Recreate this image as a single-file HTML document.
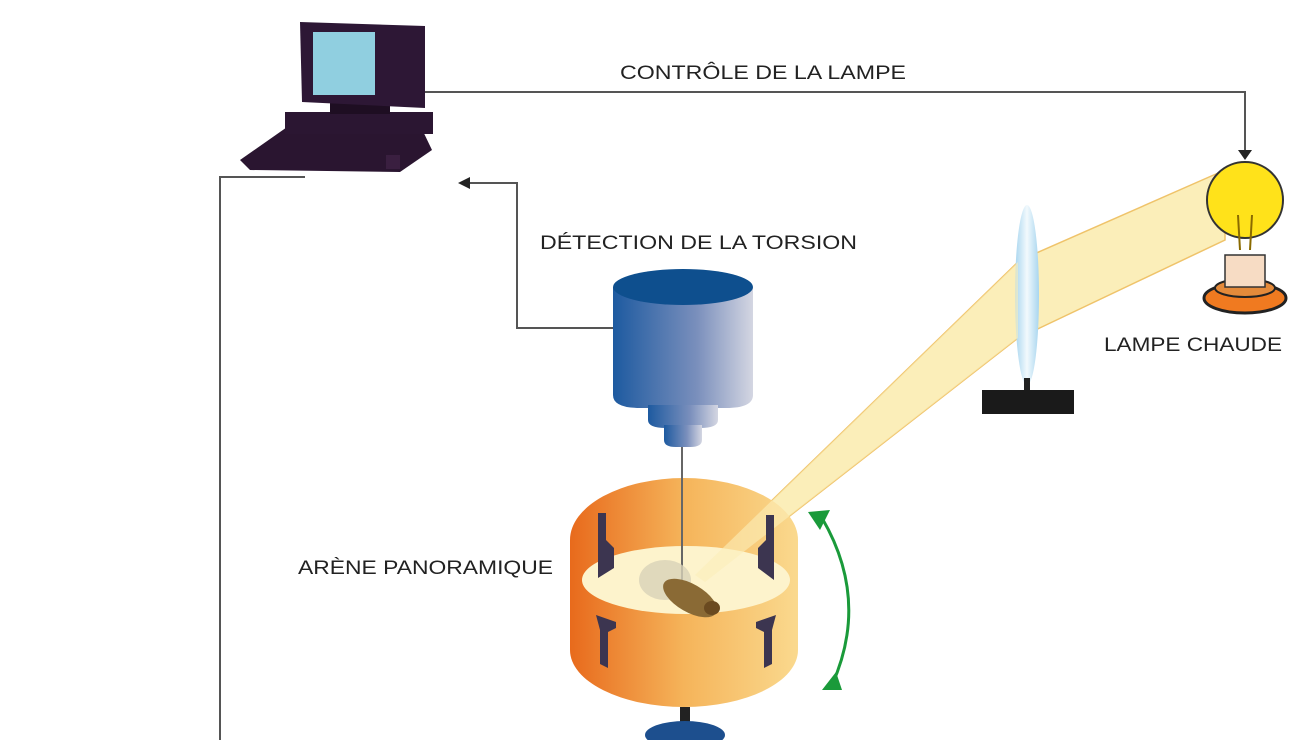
<!DOCTYPE html>
<html><head><meta charset="utf-8"><style>
html,body{margin:0;padding:0;background:#fff;}
svg{display:block;}
text{font-family:"Liberation Sans",sans-serif;font-size:19px;fill:#222;}
</style></head><body>
<svg width="1300" height="740" viewBox="0 0 1300 740" xmlns="http://www.w3.org/2000/svg">
<defs>
<linearGradient id="cyl" x1="0" x2="1"><stop offset="0" stop-color="#1d5aa0"/><stop offset="0.6" stop-color="#7a8fbc"/><stop offset="1" stop-color="#d4d6e2"/></linearGradient>
<linearGradient id="arena" x1="0" x2="1"><stop offset="0" stop-color="#e86a1c"/><stop offset="0.5" stop-color="#f5b45a"/><stop offset="1" stop-color="#fad98e"/></linearGradient>
<linearGradient id="lens" x1="0" x2="1"><stop offset="0" stop-color="#a8d6ef"/><stop offset="0.5" stop-color="#f2f9fd"/><stop offset="1" stop-color="#a8d6ef"/></linearGradient>
</defs>
<g stroke="#555" stroke-width="2" fill="none">
<polyline points="425,92 1245,92 1245,152"/>
<polyline points="305,177 220,177 220,740"/>
<polyline points="615,328 517,328 517,183 468,183"/>
</g>
<polygon points="1238,150 1252,150 1245,160" fill="#222"/>
<polygon points="458,183 470,177 470,189" fill="#222"/>
<polygon points="1225,170 1025,258 1025,335 1225,240" fill="#fbeeb9" stroke="#efc36a" stroke-width="1.5"/>
<polygon points="1018,262 1018,338 705,582 695,575" fill="#fbeeb9" stroke="#efc36a" stroke-width="1.5"/>
<ellipse cx="1027" cy="295" rx="12" ry="90" fill="url(#lens)"/>
<rect x="1024" y="378" width="6" height="14" fill="#222"/>
<rect x="982" y="390" width="92" height="24" fill="#1a1a1a"/>
<circle cx="1245" cy="200" r="38" fill="#ffe21a" stroke="#333" stroke-width="2"/>
<path d="M1240 250 L1238 215 M1250 250 L1252 215" stroke="#8a6a00" stroke-width="2"/>
<ellipse cx="1245" cy="298" rx="41" ry="15" fill="#f07a20" stroke="#222" stroke-width="3"/>
<ellipse cx="1245" cy="288" rx="30" ry="9" fill="#e48a3a" stroke="#222" stroke-width="2"/>
<rect x="1225" y="255" width="40" height="32" fill="#f7dcc4" stroke="#333" stroke-width="1.5"/>
<polygon points="240,160 290,125 420,125 432,150 400,172 250,170" fill="#2a1530"/>
<rect x="285" y="112" width="148" height="22" fill="#2b1632"/>
<rect x="330" y="100" width="60" height="14" fill="#1e0e22"/>
<polygon points="300,22 425,26 425,108 302,102" fill="#2d1735"/>
<rect x="313" y="32" width="62" height="63" fill="#90cfe0"/>
<rect x="386" y="155" width="14" height="14" fill="#3a1f40"/>
<path d="M613 287 L613 395 Q613 408 640 408 L726 408 Q753 408 753 395 L753 287 Z" fill="url(#cyl)"/>
<path d="M648 405 L718 405 L718 420 Q718 428 700 428 L666 428 Q648 428 648 420 Z" fill="url(#cyl)"/>
<path d="M664 425 L702 425 L702 440 Q702 447 690 447 L676 447 Q664 447 664 440 Z" fill="url(#cyl)"/>
<ellipse cx="683" cy="287" rx="70" ry="18" fill="#0e4f8e"/>
<path d="M570 540 L570 650 A114 57 0 0 0 798 650 L798 540 A114 62 0 0 0 570 540 Z" fill="url(#arena)"/>
<ellipse cx="686" cy="580" rx="104" ry="34" fill="#fdf3cc"/>
<line x1="682" y1="447" x2="682" y2="590" stroke="#666" stroke-width="2"/>
<polygon points="1018,262 1018,338 705,582 695,575" fill="#fbeeb9" opacity="0.6"/>
<g fill="#3c3550">
<path d="M598 513 L606 513 L606 540 L614 548 L614 568 L598 578 Z"/>
<path d="M766 515 L774 515 L774 580 L758 568 L758 548 L766 540 Z"/>
<path d="M596 615 L616 622 L616 628 L608 632 L608 668 L600 664 L600 630 Z"/>
<path d="M776 615 L756 622 L756 628 L764 632 L764 668 L772 664 L772 630 Z"/>
</g>
<ellipse cx="665" cy="580" rx="26" ry="20" fill="#d8d2b8" opacity="0.8"/>
<ellipse cx="690" cy="598" rx="30" ry="14" transform="rotate(30 690 598)" fill="#8a6a35"/>
<ellipse cx="712" cy="608" rx="8" ry="7" fill="#6a4a20"/>
<rect x="680" y="707" width="10" height="18" fill="#222"/>
<ellipse cx="685" cy="735" rx="40" ry="14" fill="#1d4f8e"/>
<path d="M822 518 Q870 600 832 685" stroke="#1a9a3a" stroke-width="3" fill="none"/>
<polygon points="808,512 830,510 820,530" fill="#1a9a3a"/>
<polygon points="822,690 842,690 836,672" fill="#1a9a3a"/>
<text x="620" y="79" textLength="286" lengthAdjust="spacingAndGlyphs">CONTRÔLE DE LA LAMPE</text>
<text x="540" y="249" textLength="317" lengthAdjust="spacingAndGlyphs">DÉTECTION DE LA TORSION</text>
<text x="1104" y="351" textLength="178" lengthAdjust="spacingAndGlyphs">LAMPE CHAUDE</text>
<text x="298" y="574" textLength="255" lengthAdjust="spacingAndGlyphs">ARÈNE PANORAMIQUE</text>
</svg>
</body></html>
